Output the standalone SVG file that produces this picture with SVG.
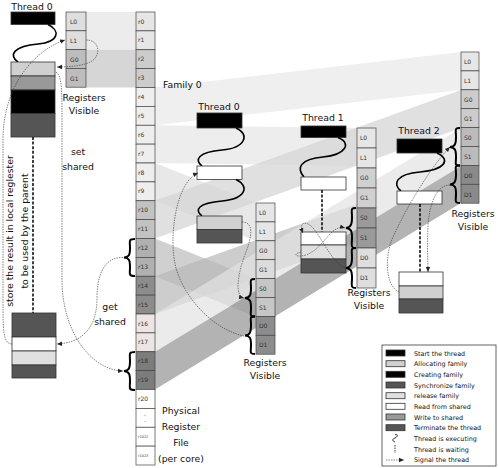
<svg xmlns="http://www.w3.org/2000/svg" width="498" height="468" viewBox="0 0 498 468">
<defs>
<marker id="ah" markerWidth="6" markerHeight="6" refX="5" refY="3" orient="auto" markerUnits="userSpaceOnUse">
<path d="M0,0.8 L5,3 L0,5.2 Z" fill="#222"/>
</marker>
<style>
text{font-family:"DejaVu Sans",sans-serif;fill:#111}
.lbl{font-size:9.3px}
.rl{font-size:6px;fill:#333}
.rs{font-size:3.5px;fill:#333}
.lg{font-size:6.4px}
.cell{stroke:#444;stroke-width:0.7}
.box{stroke:#333;stroke-width:0.8}
.wave{fill:none;stroke:#000;stroke-width:1.6}
.dash{fill:none;stroke:#000;stroke-width:1.5;stroke-dasharray:3,1.6}
.sig{fill:none;stroke:#333;stroke-width:0.6;stroke-dasharray:1.5,1}
.brace{fill:none;stroke:#000;stroke-width:2}
.k{fill:#000}.w{fill:#fff}.lt{fill:#d0d0d0}.md{fill:#999}.dk{fill:#555}.rel{fill:#e0e0e0}
</style>
</defs>

<g id="bands">
<polygon points="86,12 136,12 136,49.75 86,49.75" fill="#ececec"/>
<polygon points="86,49.75 136,49.75 136,87.5 86,87.5" fill="#d6d6d6"/>
<polygon points="155,87.5 461,52 461,90 155,125.25" fill="#efefef"/>
<polygon points="155,125.25 357,128 357,166 155,163" fill="#ebebeb" opacity="0.9"/>
<polygon points="155,163 256,203 256,241 155,200.75" fill="#e6e6e6" opacity="0.9"/>
<polygon points="155,200.75 461,90 461,128 155,238.5" fill="#d6d6d6" opacity="0.75"/>
<polygon points="155,238.5 256,279 256,317 155,276.25" fill="#c4c4c4" opacity="0.8"/>
<polygon points="155,276.25 357,204 357,242 155,314" fill="#b8b8b8" opacity="0.7"/>
<polygon points="155,314 461,128 461,166 155,351.75" fill="#e2e2e2" opacity="0.7"/>
<polygon points="155,351.75 461,166 461,203 155,389.5" fill="#9a9a9a" opacity="0.75"/>
</g>

<g id="register-file">
<rect class="cell" x="136" y="12" width="19" height="18.875" fill="#e6e6e6"/>
<rect class="cell" x="136" y="30.875" width="19" height="18.875" fill="#e6e6e6"/>
<rect class="cell" x="136" y="49.75" width="19" height="18.875" fill="#cccccc"/>
<rect class="cell" x="136" y="68.625" width="19" height="18.875" fill="#cccccc"/>
<rect class="cell" x="136" y="87.5" width="19" height="18.875" fill="#eeeeee"/>
<rect class="cell" x="136" y="106.375" width="19" height="18.875" fill="#eeeeee"/>
<rect class="cell" x="136" y="125.25" width="19" height="18.875" fill="#eeeeee"/>
<rect class="cell" x="136" y="144.125" width="19" height="18.875" fill="#eeeeee"/>
<rect class="cell" x="136" y="163" width="19" height="18.875" fill="#eeeeee"/>
<rect class="cell" x="136" y="181.875" width="19" height="18.875" fill="#eeeeee"/>
<rect class="cell" x="136" y="200.75" width="19" height="18.875" fill="#c2c2c2"/>
<rect class="cell" x="136" y="219.625" width="19" height="18.875" fill="#c2c2c2"/>
<rect class="cell" x="136" y="238.5" width="19" height="18.875" fill="#b0b0b0"/>
<rect class="cell" x="136" y="257.375" width="19" height="18.875" fill="#b0b0b0"/>
<rect class="cell" x="136" y="276.25" width="19" height="18.875" fill="#8c8c8c"/>
<rect class="cell" x="136" y="295.125" width="19" height="18.875" fill="#8c8c8c"/>
<rect class="cell" x="136" y="314" width="19" height="18.875" fill="#ede5e5"/>
<rect class="cell" x="136" y="332.875" width="19" height="18.875" fill="#ede5e5"/>
<rect class="cell" x="136" y="351.75" width="19" height="18.875" fill="#7c7c7c"/>
<rect class="cell" x="136" y="370.625" width="19" height="18.875" fill="#7c7c7c"/>
<rect class="cell" x="136" y="389.5" width="19" height="18.875" fill="#fff"/>
<rect class="cell" x="136" y="408.375" width="19" height="18.875" fill="#fff"/>
<rect class="cell" x="136" y="427.25" width="19" height="18.875" fill="#fff"/>
<rect class="cell" x="136" y="446.125" width="19" height="18.875" fill="#fff"/>
<text class="rl" x="138" y="23.5">r0</text>
<text class="rl" x="138" y="42.4">r1</text>
<text class="rl" x="138" y="61.3">r2</text>
<text class="rl" x="138" y="80.1">r3</text>
<text class="rl" x="138" y="99">r4</text>
<text class="rl" x="138" y="117.9">r5</text>
<text class="rl" x="138" y="136.8">r6</text>
<text class="rl" x="138" y="155.6">r7</text>
<text class="rl" x="138" y="174.5">r8</text>
<text class="rl" x="138" y="193.4">r9</text>
<text class="rl" x="138" y="212.3">r10</text>
<text class="rl" x="138" y="231.1">r11</text>
<text class="rl" x="138" y="250">r12</text>
<text class="rl" x="138" y="268.9">r13</text>
<text class="rl" x="138" y="287.8">r14</text>
<text class="rl" x="138" y="306.6">r15</text>
<text class="rl" x="138" y="325.5">r16</text>
<text class="rl" x="138" y="344.4">r17</text>
<text class="rl" x="138" y="363.3">r18</text>
<text class="rl" x="138" y="382.1">r19</text>
<text class="rl" x="138" y="401">r20</text>
<text class="rl" x="144" y="416">.</text>
<text class="rl" x="144" y="422">.</text>
<text class="rs" x="138" y="438">r1022</text>
<text class="rs" x="138" y="457">r1023</text>
<text class="lbl" x="181" y="414" text-anchor="middle">Physical</text>
<text class="lbl" x="181" y="430" text-anchor="middle">Register</text>
<text class="lbl" x="181" y="446" text-anchor="middle">File</text>
<text class="lbl" x="181" y="462" text-anchor="middle">(per core)</text>
</g>

<g id="parent-thread">
<text class="lbl" x="32" y="10" text-anchor="middle">Thread 0</text>
<rect class="box k" x="11" y="12" width="44" height="12.5"/>
<path class="wave" d="M48,24.5 C60,30 60,42 38,44 C14,46 8,55 18,62"/>
<rect class="box lt" x="11" y="62" width="44" height="14"/>
<rect class="box md" x="11" y="76" width="44" height="14"/>
<rect class="box k" x="11" y="90" width="44" height="23.5"/>
<rect class="box dk" x="11" y="113.5" width="44" height="23.5"/>
<path class="dash" d="M33,137 V313"/>
<rect class="box dk" x="12" y="313" width="44" height="24"/>
<rect class="box w" x="12" y="337" width="44" height="14"/>
<rect class="box rel" x="12" y="351" width="44" height="14"/>
<rect class="box dk" x="12" y="365" width="44" height="13"/>
<text class="lbl" transform="translate(13,231) rotate(-90)" text-anchor="middle">store the result in local reglester</text>
<text class="lbl" transform="translate(28,231) rotate(-90)" text-anchor="middle">to be used by the parent</text>
</g>

<g id="parent-registers">
<rect class="cell" x="66" y="12" width="20" height="18.8" fill="#dedede"/>
<rect class="cell" x="66" y="30.8" width="20" height="18.8" fill="#dedede"/>
<rect class="cell" x="66" y="49.6" width="20" height="18.8" fill="#bdbdbd"/>
<rect class="cell" x="66" y="68.4" width="20" height="18.8" fill="#bdbdbd"/>
<text class="rl" x="70" y="24">L0</text>
<text class="rl" x="70" y="43">L1</text>
<text class="rl" x="70" y="61.5">G0</text>
<text class="rl" x="70" y="80.5">G1</text>
<text class="lbl" x="84" y="101" text-anchor="middle">Registers</text>
<text class="lbl" x="84" y="114" text-anchor="middle">Visible</text>
</g>

<g id="family-label"><text class="lbl" x="163" y="88">Family 0</text></g>

<g id="f-thread0">
<text class="lbl" x="219" y="110" text-anchor="middle">Thread 0</text>
<rect class="box k" x="197" y="113" width="45" height="15"/>
<path class="wave" d="M236,128 C250,134 246,148 222,150 C198,152 194,160 202,166"/>
<rect class="box w" x="197" y="166" width="45" height="13.5"/>
<path class="wave" d="M236,179.5 C250,186 246,199 222,201 C198,203 194,210 202,216"/>
<rect class="box lt" x="197" y="216" width="45" height="13.5"/>
<rect class="box dk" x="197" y="229.5" width="45" height="13.5"/>
</g>

<g id="f-regs0">
<rect class="cell" x="256" y="203" width="19" height="18.9" fill="#e6e6e6"/>
<rect class="cell" x="256" y="221.9" width="19" height="18.9" fill="#e6e6e6"/>
<rect class="cell" x="256" y="240.8" width="19" height="18.9" fill="#dcdcdc"/>
<rect class="cell" x="256" y="259.7" width="19" height="18.9" fill="#dcdcdc"/>
<rect class="cell" x="256" y="278.6" width="19" height="18.9" fill="#c6c6c6"/>
<rect class="cell" x="256" y="297.5" width="19" height="18.9" fill="#c6c6c6"/>
<rect class="cell" x="256" y="316.4" width="19" height="18.9" fill="#8c8c8c"/>
<rect class="cell" x="256" y="335.3" width="19" height="18.9" fill="#8c8c8c"/>
<text class="rl" x="259" y="215">L0</text>
<text class="rl" x="259" y="234">L1</text>
<text class="rl" x="259" y="252.5">G0</text>
<text class="rl" x="259" y="271.5">G1</text>
<text class="rl" x="259" y="290.5">S0</text>
<text class="rl" x="259" y="309.5">S1</text>
<text class="rl" x="259" y="328">D0</text>
<text class="rl" x="259" y="347">D1</text>
<text class="lbl" x="265" y="366" text-anchor="middle">Registers</text>
<text class="lbl" x="265" y="379" text-anchor="middle">Visible</text>
</g>

<g id="f-thread1">
<text class="lbl" x="323" y="121" text-anchor="middle">Thread 1</text>
<rect class="box k" x="301" y="126" width="45" height="11.5"/>
<path class="wave" d="M338,137.5 C352,143 346,155 323,157 C300,159 296,168 304,177"/>
<rect class="box w" x="301" y="177" width="45" height="13"/>
<path class="dash" d="M322,190 V232"/>
<rect class="box w" x="301" y="232" width="45" height="13"/>
<rect class="box rel" x="301" y="245" width="45" height="14"/>
<rect class="box dk" x="301" y="259" width="45" height="14"/>
</g>

<g id="f-regs1">
<rect class="cell" x="357" y="128" width="19" height="20" fill="#e6e6e6"/>
<rect class="cell" x="357" y="148" width="19" height="20" fill="#e6e6e6"/>
<rect class="cell" x="357" y="168" width="19" height="20" fill="#d0d0d0"/>
<rect class="cell" x="357" y="188" width="19" height="20" fill="#d0d0d0"/>
<rect class="cell" x="357" y="208" width="19" height="20" fill="#9a9a9a"/>
<rect class="cell" x="357" y="228" width="19" height="20" fill="#9a9a9a"/>
<rect class="cell" x="357" y="248" width="19" height="20" fill="#dedede"/>
<rect class="cell" x="357" y="268" width="19" height="20" fill="#dedede"/>
<text class="rl" x="360" y="140">L0</text>
<text class="rl" x="360" y="160">L1</text>
<text class="rl" x="360" y="180">G0</text>
<text class="rl" x="360" y="200">G1</text>
<text class="rl" x="360" y="220">S0</text>
<text class="rl" x="360" y="240">S1</text>
<text class="rl" x="360" y="260">D0</text>
<text class="rl" x="360" y="280">D1</text>
<text class="lbl" x="369" y="296" text-anchor="middle">Registers</text>
<text class="lbl" x="369" y="309" text-anchor="middle">Visible</text>
</g>

<g id="f-thread2">
<text class="lbl" x="419" y="134" text-anchor="middle">Thread 2</text>
<rect class="box k" x="397" y="139" width="45" height="14"/>
<path class="wave" d="M437,153 C452,160 444,170 420,172 C396,174 392,184 401,191"/>
<rect class="box w" x="397" y="191" width="45" height="13"/>
<path class="dash" d="M420,204 V272"/>
<rect class="box w" x="399" y="272" width="44" height="14"/>
<rect class="box lt" x="399" y="286" width="44" height="13"/>
<rect class="box dk" x="399" y="299" width="44" height="14"/>
</g>

<g id="f-regs2">
<rect class="cell" x="461" y="52" width="18" height="18.9" fill="#e6e6e6"/>
<rect class="cell" x="461" y="70.9" width="18" height="18.9" fill="#e6e6e6"/>
<rect class="cell" x="461" y="89.8" width="18" height="18.9" fill="#cccccc"/>
<rect class="cell" x="461" y="108.7" width="18" height="18.9" fill="#cccccc"/>
<rect class="cell" x="461" y="127.6" width="18" height="18.9" fill="#bbbbbb"/>
<rect class="cell" x="461" y="146.5" width="18" height="18.9" fill="#bbbbbb"/>
<rect class="cell" x="461" y="165.4" width="18" height="18.9" fill="#8a8a8a"/>
<rect class="cell" x="461" y="184.3" width="18" height="18.9" fill="#8a8a8a"/>
<text class="rl" x="464" y="64">L0</text>
<text class="rl" x="464" y="83">L1</text>
<text class="rl" x="464" y="102">G0</text>
<text class="rl" x="464" y="121">G1</text>
<text class="rl" x="464" y="140">S0</text>
<text class="rl" x="464" y="159">S1</text>
<text class="rl" x="464" y="177.5">D0</text>
<text class="rl" x="464" y="196.5">D1</text>
<text class="lbl" x="473" y="217" text-anchor="middle">Registers</text>
<text class="lbl" x="473" y="230" text-anchor="middle">Visible</text>
</g>

<g id="braces">
<path class="brace" d="M135,239 C128,239 130,241 130,248 C130,255 129,257 124,257.5 C129,258 130,260 130,267 C130,274 128,276 135,276"/>
<path class="brace" d="M135,352 C128,352 130,354 130,361 C130,368 129,370.5 124,371 C129,371.5 130,374 130,381 C130,388 128,390 135,390"/>
<path class="brace" d="M255,279 C249,279 251,281 251,288 C251,295 250,297.5 245,298 C250,298.5 251,301 251,308 C251,315 249,316.5 255,316.5"/>
<path class="brace" d="M255,316.5 C249,316.5 251,318 251,325 C251,332 250,335 245,335.5 C250,336 251,338 251,345 C251,352 249,354 255,354"/>
<path class="brace" d="M356,208 C350,208 352,210 352,217 C352,224 351,227.5 346,228 C351,228.5 352,231 352,238 C352,245 350,248 356,248"/>
<path class="brace" d="M356,248 C350,248 352,250 352,257 C352,264 351,267.5 346,268 C351,268.5 352,271 352,278 C352,285 350,288 356,288"/>
<path class="brace" d="M460,128 C454,128 456,130 456,137 C456,144 455,146.5 450,147 C455,147.5 456,150 456,157 C456,164 454,165.5 460,165.5"/>
<path class="brace" d="M460,165.5 C454,165.5 456,167 456,174 C456,181 455,184 450,184.5 C455,185 456,187 456,194 C456,201 454,203 460,203"/>
</g>

<g id="connectors">
<path class="sig" d="M86,40 C100,40 101,55 92,61 C84,66 68,67 57,67" marker-end="url(#ah)"/>
<path class="sig" d="M12,344 C3,344 3,330 3,300 L3,140 C3,85 35,50 65,40" marker-end="url(#ah)"/>
<path class="sig" d="M56,72 C62,76 62,90 62,120 L62,280 C62,330 90,370 123,371" marker-end="url(#ah)"/>
<path class="sig" d="M123,257.5 C104,257 97,275 97,298 C97,330 80,343 57,344" marker-end="url(#ah)"/>
<path class="sig" d="M242,222 C254,222 252,236 246,252 C238,272 234,296 244,298" marker-end="url(#ah)"/>
<path class="sig" d="M244,336 C215,330 185,300 176,268 C168,238 176,182 198,173" marker-end="url(#ah)"/>
<path class="sig" d="M345,268 C330,262 318,228 308,224 C300,221 301,228 303,233" marker-end="url(#ah)"/>
<path class="sig" d="M301,252 C292,254 296,258 306,255 C325,248 330,224 345,228" marker-end="url(#ah)"/>
<path class="sig" d="M399,292 C385,286 384,255 394,235 C410,200 435,162 450,147" marker-end="url(#ah)"/>
<path class="sig" d="M450,185 C438,185 430,200 428,225 C427,250 428,262 428,272" marker-end="url(#ah)"/>
</g>

<g id="labels">
<text class="lbl" x="78" y="155" text-anchor="middle">set</text>
<text class="lbl" x="78" y="170" text-anchor="middle">shared</text>
<text class="lbl" x="110" y="310" text-anchor="middle">get</text>
<text class="lbl" x="110" y="325" text-anchor="middle">shared</text>
</g>

<g id="legend">
<rect x="382" y="345" width="114" height="121" fill="#fff" stroke="#222" stroke-width="0.7"/>
<rect class="box k" x="386" y="350" width="19" height="6"/>
<rect class="box lt" x="386" y="360.7" width="19" height="6"/>
<rect class="box k" x="386" y="371.3" width="19" height="6"/>
<rect class="box dk" x="386" y="382" width="19" height="6"/>
<rect class="box rel" x="386" y="392.7" width="19" height="6"/>
<rect class="box w" x="386" y="403.3" width="19" height="6"/>
<rect class="box md" x="386" y="414" width="19" height="6"/>
<rect class="box dk" x="386" y="424.7" width="19" height="6"/>
<path fill="none" stroke="#000" stroke-width="0.8" d="M395,435 C398,433 398,437 395,438 C392,439 392,441 395,442"/>
<path fill="none" stroke="#000" stroke-width="0.8" stroke-dasharray="1.5,1" d="M395,445 V453"/>
<path class="sig" d="M386,460 H404" marker-end="url(#ah)"/>
<text class="lg" x="414" y="355.5">Start the thread</text>
<text class="lg" x="414" y="366.2">Allocating family</text>
<text class="lg" x="414" y="376.8">Creating family</text>
<text class="lg" x="414" y="387.5">Synchronize family</text>
<text class="lg" x="414" y="398.2">release family</text>
<text class="lg" x="414" y="408.8">Read from shared</text>
<text class="lg" x="414" y="419.5">Write to shared</text>
<text class="lg" x="414" y="430.2">Terminate the thread</text>
<text class="lg" x="414" y="440.8">Thread is executing</text>
<text class="lg" x="414" y="451.5">Thread is waiting</text>
<text class="lg" x="414" y="462.2">Signal the thread</text>
</g>
</svg>
